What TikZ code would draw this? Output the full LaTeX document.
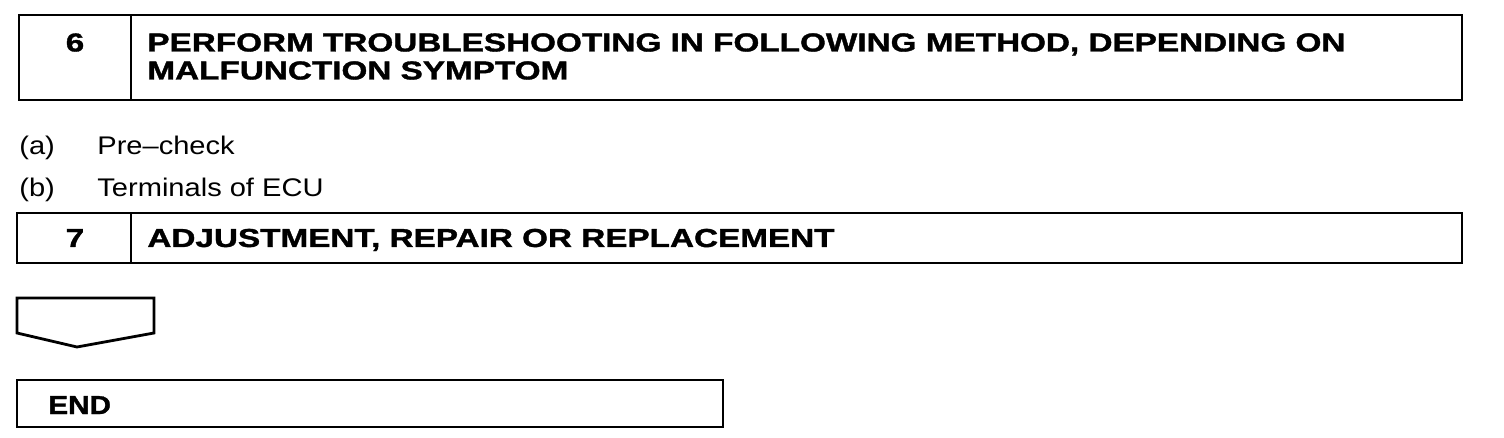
\documentclass[tikz,border=0pt]{standalone}
\usepackage{fontspec}
\setmainfont{Liberation Sans}[BoldFeatures={FakeBold=1.2}]
\newcommand\widehead[1]{\scalebox{1.28}[1]{#1}}
\newcommand\widebody[1]{\scalebox{1.14}[1]{#1}}
\begin{document}
\begin{tikzpicture}[x=1pt,y=-1pt,line width=2.8pt,
  box/.style={draw,anchor=north west,inner sep=0pt,outer sep=0pt},
  head/.style={font=\fontsize{26}{28}\selectfont\bfseries,inner sep=0pt,anchor=base west},
  body/.style={font=\fontsize{25.5}{30}\selectfont,inner sep=0pt,anchor=base west}]
\useasboundingbox (0,0) rectangle (1504,438);
% step 6
\node[box,minimum width=112pt,minimum height=85pt] (n6) at (19,15) {};
\node[box,minimum width=1331pt,minimum height=85pt] (t6) at (131,15) {};
\node[head,anchor=base] (l6) at (75,51.5) {\widehead{6}};
\node[head] (h6a) at (146,51.5) {\widehead{PERFORM TROUBLESHOOTING IN FOLLOWING METHOD, DEPENDING ON}};
\node[head] (h6b) at (146,79.5) {\widehead{MALFUNCTION SYMPTOM}};
% items
\node[body] (ia) at (18,155) {\widebody{(a)}};
\node[body] (ta) at (96,155) {\widebody{Pre--check}};
\node[body] (ib) at (18,197) {\widebody{(b)}};
\node[body] (tb) at (96,197) {\widebody{Terminals of ECU}};
% step 7
\node[box,minimum width=114pt,minimum height=50pt] (n7) at (17,213) {};
\node[box,minimum width=1331pt,minimum height=50pt] (t7) at (131,213) {};
\node[head,anchor=base] (l7) at (75,247) {\widehead{7}};
\node[head] (h7) at (146,247) {\widehead{ADJUSTMENT, REPAIR OR REPLACEMENT}};
% arrow
\draw[line join=miter] (17,298) -- (154,298) -- (154,333) -- (77,347) -- (17,333) -- cycle;
% end
\node[box,minimum width=706pt,minimum height=47pt] (e) at (17,380) {};
\node[head] (et) at (47,414) {\widebody{END}};
\end{tikzpicture}
\end{document}
